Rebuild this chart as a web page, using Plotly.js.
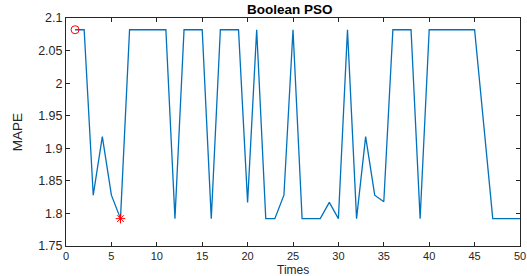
<!DOCTYPE html>
<html><head><meta charset="utf-8">
<script src="https://cdn.plot.ly/plotly-3.0.1.min.js"></script>
<style>html,body{margin:0;padding:0;background:#fff;}#plot{width:527px;height:276px;}</style>
</head><body><div id="plot"></div>
<script>
const times = [1,2,3,4,5,6,7,8,9,10,11,12,13,14,15,16,17,18,19,20,21,22,23,24,25,26,27,28,29,30,31,32,33,34,35,36,37,38,39,40,41,42,43,44,45,46,47,48,49,50];
const mape = [2.082,2.082,1.828,1.918,1.828,1.792,2.082,2.082,2.082,2.082,2.082,1.792,2.082,2.082,2.082,1.792,2.082,2.082,2.082,1.817,2.082,1.792,1.792,1.828,2.082,1.792,1.792,1.792,1.817,1.792,2.082,1.792,1.918,1.828,1.818,2.082,2.082,2.082,1.792,2.082,2.082,2.082,2.082,2.082,2.082,1.937,1.792,1.792,1.792,1.792];
const startPt = {x:[1], y:[2.082]};
const bestPt = {x:[6], y:[1.792]};
const fontFam = 'Liberation Sans, Arial, sans-serif';
const ax = {
  showgrid:false, zeroline:false, showline:true, mirror:'ticks',
  linecolor:'#262626', linewidth:1, ticks:'inside', ticklen:4, tickcolor:'#262626',
  tickfont:{family:fontFam, size:12.5, color:'#262626'}
};
const data = [
  {x:times, y:mape, type:'scatter', mode:'lines', line:{color:'#0072BD', width:1.3}, hoverinfo:'skip'},
  {x:startPt.x, y:startPt.y, type:'scatter', mode:'markers', marker:{symbol:'circle-open', color:'#FF0000', size:8, line:{width:1}}},
  {x:bestPt.x, y:bestPt.y, type:'scatter', mode:'markers', marker:{symbol:'asterisk-open', color:'#FF0000', size:8, line:{width:1, color:'#FF0000'}}}
];
const layout = {
  width:527, height:276, showlegend:false,
  paper_bgcolor:'#fff', plot_bgcolor:'#fff',
  margin:{l:66, r:7, t:18, b:30},
  title:{text:'<b>Boolean PSO</b>', font:{family:fontFam, size:13.5, color:'#000'}, x:0.55, xanchor:'center', y:0.985, yanchor:'top'},
  xaxis:Object.assign({}, ax, {range:[0,50], tickvals:[0,5,10,15,20,25,30,35,40,45,50], tickfont:{family:fontFam, size:11, color:'#262626'}}),
  yaxis:Object.assign({}, ax, {range:[1.75,2.1], tickvals:[1.75,1.8,1.85,1.9,1.95,2,2.05,2.1], ticktext:['1.75','1.8','1.85','1.9','1.95','2','2.05','2.1'], title:{text:'MAPE', font:{family:fontFam, size:13.5, color:'#262626'}, standoff:12}}),
  annotations:[{text:'Times', xref:'paper', yref:'paper', x:0.5, y:0, xanchor:'center', yanchor:'top', yshift:-14.5, showarrow:false, font:{family:fontFam, size:12, color:'#262626'}}]
};
Plotly.newPlot('plot', data, layout, {staticPlot:true, displayModeBar:false});
</script></body></html>
